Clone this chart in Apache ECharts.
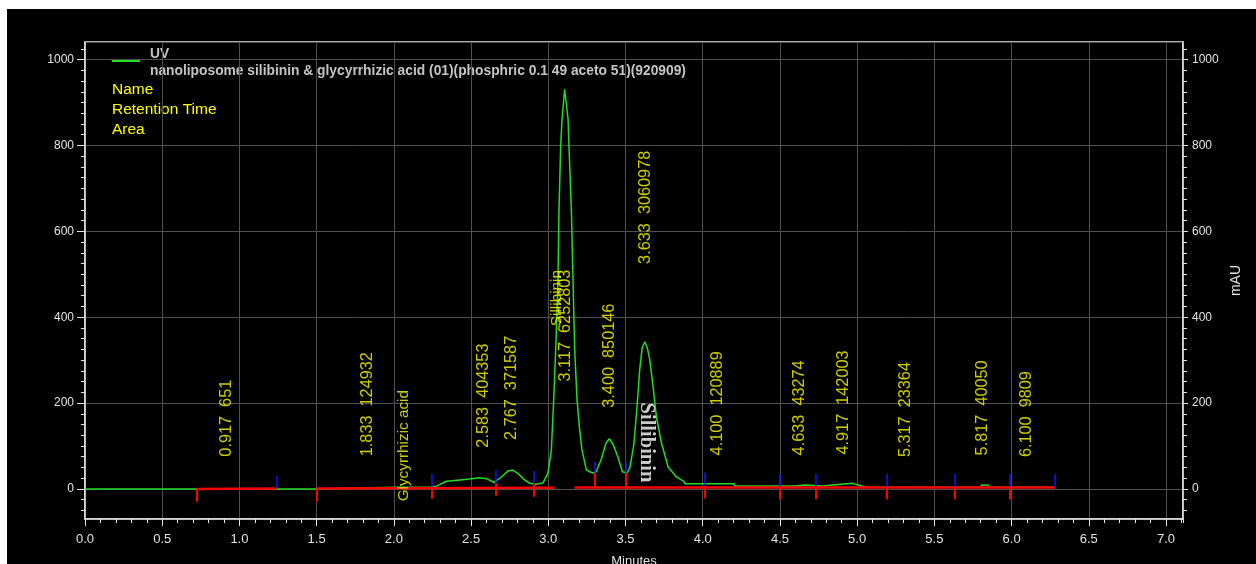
<!DOCTYPE html>
<html><head><meta charset="utf-8">
<script src="https://cdn.jsdelivr.net/npm/echarts@6/dist/echarts.min.js"></script>
<style>
html,body{margin:0;padding:0;background:#fff;width:1256px;height:564px;overflow:hidden}
#c{position:absolute;left:7px;top:9px;width:1249px;height:555px}
</style>
</head><body><div id="c"></div>
<script>
// ---- chromatogram trace (minutes, mAU) ----
const time = [0.00,0.30,0.60,0.90,1.20,1.50,1.62,1.63,2.00,2.24,2.28,2.34,2.43,2.49,2.555,2.60,2.65,2.70,2.74,2.77,2.80,2.84,2.88,2.92,2.966,2.998,3.020,3.035,3.048,3.063,3.069,3.080,3.089,3.106,3.128,3.134,3.150,3.160,3.171,3.186,3.203,3.218,3.247,3.268,3.29,3.31,3.342,3.374,3.395,3.421,3.45,3.48,3.51,3.528,3.554,3.573,3.592,3.608,3.625,3.641,3.657,3.677,3.700,3.733,3.776,3.830,3.88,3.885,4.013,4.20,4.21,4.60,4.605,4.66,4.665,4.78,4.785,4.84,4.845,4.97,5.03,5.06,5.80,5.805,5.85,5.855,6.28];
const signal = [0,0,0,0,0,0,1,4,4,4,7,18,21,23,26,24,15,29,42,44,37,23,13,11,14,37,91,208,324,488,644,798,861,931,861,798,644,488,324,208,138,91,44,40,37,40,68,107,117,103,75,40,37,49,103,184,278,329,343,329,301,243,168,107,51,28,17,12,12,12,7,7,9,9,7,7,9,9,13,13,7,4,4,9,9,4,4];

// ---- integration baseline segments ----
const baseStart = [0.722, 1.50, 3.17];
const baseEnd   = [1.24, 3.04, 6.28];
const baseStartLevel = [0, 1, 4];
const baseEndLevel   = [1, 3, 4];

// ---- peak start (red) and end (blue) markers ----
const redTime   = [0.722,1.50,2.245,2.66,2.905,3.30,3.50,4.016,4.50,4.73,5.19,5.63,5.99];
const redTop    = [0,1,5,13,13,37,37,7,7,7,5,5,5];
const redBottom = [-30,-30,-23,-16,-18,-1,-1,-22,-24,-24,-24,-24,-24];
const blueTime   = [1.24,2.245,2.66,2.905,3.30,3.50,4.016,4.50,4.73,5.19,5.63,5.99,6.28];
const blueBottom = [1,5,13,13,37,37,7,7,7,5,5,5,4];
const blueTop    = [30,35,44,42,64,64,38,35,35,35,35,35,35];

// ---- peak annotations: retention time, area, label anchor level ----
const peakTime  = [0.917,1.833,2.583,2.767,3.117,3.400,3.633,4.100,4.633,4.917,5.317,5.817,6.100];
const peakArea  = [651,124932,404353,371587,6252803,850146,3060978,120889,43274,142003,23364,40050,9809];
const peakLabelLevel = [74,75,95,113,249,188,523,77,77,79,73,77,73];

// ---- named compounds ----
const nameText  = ['Glycyrrhizic acid','Sillibinin'];
const nameTime  = [2.066, 3.055];
const nameLevel = [-30, 378];
const boldName = 'Sillibinin', boldTime = 3.638, boldLevel = 200;

const xTicks = [0,0.5,1,1.5,2,2.5,3,3.5,4,4.5,5,5.5,6,6.5,7];
const yMinor = [];
for (let v = -50; v <= 1025; v += 25) if (v % 200 !== 0) yMinor.push(v);

const W = '#e2e2e2', GRID = '#4f4f4f', YEL = '#ffff00', GREEN = '#22dd22';
const FONT = 'Liberation Sans';

const chart = echarts.init(document.getElementById('c'));

const yCommon = {type:'value', min:-70, max:1041};
const option = {
  backgroundColor:'#000',
  animation:false,
  grid:{left:78, right:73, top:33, bottom:45, show:true, borderColor:W, borderWidth:1.5,
        backgroundColor:'transparent', outerBoundsMode:'none', containLabel:false},
  xAxis:[
    {type:'value', min:0, max:7.11, interval:0.5, position:'bottom',
     axisLine:{show:true, onZero:false, lineStyle:{color:W, width:1.5}},
     axisTick:{show:true, length:7, lineStyle:{color:W}},
     axisLabel:{color:W, fontSize:13, fontFamily:FONT, margin:14, showMaxLabel:false,
       formatter:v=> xTicks.indexOf(+v.toFixed(2))>=0 ? v.toFixed(1) : ''},
     splitLine:{show:true, lineStyle:{color:GRID, width:1}},
     name:'Minutes', nameLocation:'middle', nameGap:36, nameTextStyle:{color:W, fontSize:13, fontFamily:FONT}},
    {type:'value', min:0, max:7.11, interval:0.1, position:'bottom',
     axisLine:{show:false, onZero:false}, axisTick:{show:true, length:4, lineStyle:{color:W}},
     axisLabel:{show:false}, splitLine:{show:false}}
  ],
  yAxis:[
    Object.assign({}, yCommon, {position:'left',
     axisLine:{show:true, onZero:false, lineStyle:{color:W, width:1.5}},
     axisTick:{show:true, length:8, lineStyle:{color:W}},
     axisLabel:{color:W, fontSize:12, fontFamily:FONT, margin:11, showMinLabel:false, showMaxLabel:false,
       formatter:v=>String(v)},
     splitLine:{show:true, lineStyle:{color:GRID, width:1}}}),
    Object.assign({}, yCommon, {position:'left',
     axisLine:{show:false, onZero:false}, axisTick:{show:true, length:4, customValues:yMinor, lineStyle:{color:W}},
     axisLabel:{show:false}, splitLine:{show:false}}),
    Object.assign({}, yCommon, {position:'right',
     axisLine:{show:true, onZero:false, lineStyle:{color:W, width:1.5}},
     axisTick:{show:true, length:5, lineStyle:{color:W}},
     axisLabel:{color:W, fontSize:12, fontFamily:FONT, margin:9, showMinLabel:false, showMaxLabel:false,
       formatter:v=>String(v)},
     splitLine:{show:false},
     name:'mAU', nameLocation:'middle', nameGap:40, nameTextStyle:{color:W, fontSize:14, fontFamily:FONT}}),
    Object.assign({}, yCommon, {position:'right',
     axisLine:{show:false, onZero:false}, axisTick:{show:true, length:4, customValues:yMinor, lineStyle:{color:W}},
     axisLabel:{show:false}, splitLine:{show:false}})
  ],
  graphic:[
    {type:'line', shape:{x1:105, y1:52, x2:133, y2:52}, style:{stroke:GREEN, lineWidth:2}},
    {type:'text', x:143, y:45, style:{text:'UV', fill:'#c4c4c4', font:'bold 13.8px '+FONT, verticalAlign:'middle'}},
    {type:'text', x:143, y:62, style:{text:'nanoliposome silibinin & glycyrrhizic acid (01)(phosphric 0.1 49 aceto 51)(920909)', fill:'#c4c4c4', font:'bold 13.8px '+FONT, verticalAlign:'middle'}},
    {type:'text', x:105, y:81, style:{text:'Name', fill:YEL, font:'15.5px '+FONT, verticalAlign:'middle'}},
    {type:'text', x:105, y:101, style:{text:'Retention Time', fill:YEL, font:'15.5px '+FONT, verticalAlign:'middle'}},
    {type:'text', x:105, y:121, style:{text:'Area', fill:YEL, font:'15.5px '+FONT, verticalAlign:'middle'}}
  ],
  series:[
    {type:'line', name:'UV', data:time.map((t,i)=>[t, signal[i]]), showSymbol:false, symbol:'none',
     lineStyle:{color:GREEN, width:1.5}, z:2, silent:true},
    {type:'lines', coordinateSystem:'cartesian2d', z:3, silent:true,
     data:baseStart.map((s,i)=>({coords:[[s, baseStartLevel[i]],[baseEnd[i], baseEndLevel[i]]]})),
     lineStyle:{color:'#ff0000', width:2.5, opacity:1}},
    {type:'lines', coordinateSystem:'cartesian2d', z:4, silent:true,
     data:redTime.map((t,i)=>({coords:[[t, redTop[i]],[t, redBottom[i]]]})),
     lineStyle:{color:'#ff0000', width:2, opacity:1}},
    {type:'lines', coordinateSystem:'cartesian2d', z:4, silent:true,
     data:blueTime.map((t,i)=>({coords:[[t, blueBottom[i]],[t, blueTop[i]]]})),
     lineStyle:{color:'#1414ff', width:1.5, opacity:1}},
    {type:'scatter', z:5, silent:true, symbol:'circle', symbolSize:1, itemStyle:{color:'rgba(0,0,0,0)'},
     data:peakTime.map((t,i)=>({value:[t, peakLabelLevel[i]], text:t.toFixed(3)+'  '+peakArea[i]})),
     label:{show:true, position:[0,0], rotate:90, align:'left', verticalAlign:'middle',
       color:YEL, fontSize:16.3, fontFamily:FONT, formatter:p=>p.data.text}},
    {type:'scatter', z:5, silent:true, symbol:'circle', symbolSize:1, itemStyle:{color:'rgba(0,0,0,0)'},
     data:nameTime.map((t,i)=>({value:[t, nameLevel[i]], text:nameText[i]})),
     label:{show:true, position:[0,0], rotate:90, align:'left', verticalAlign:'middle',
       color:YEL, fontSize:15.3, fontFamily:FONT, formatter:p=>p.data.text}},
    {type:'scatter', z:6, silent:true, symbol:'circle', symbolSize:1, itemStyle:{color:'rgba(0,0,0,0)'},
     data:[{value:[boldTime, boldLevel], text:boldName}],
     label:{show:true, position:[0,0], rotate:-90, align:'left', verticalAlign:'middle',
       color:'#ffffff', fontSize:20.5, fontWeight:'bold', fontFamily:'Liberation Serif', formatter:p=>p.data.text}}
  ]
};
chart.setOption(option);
</script>
</body></html>
